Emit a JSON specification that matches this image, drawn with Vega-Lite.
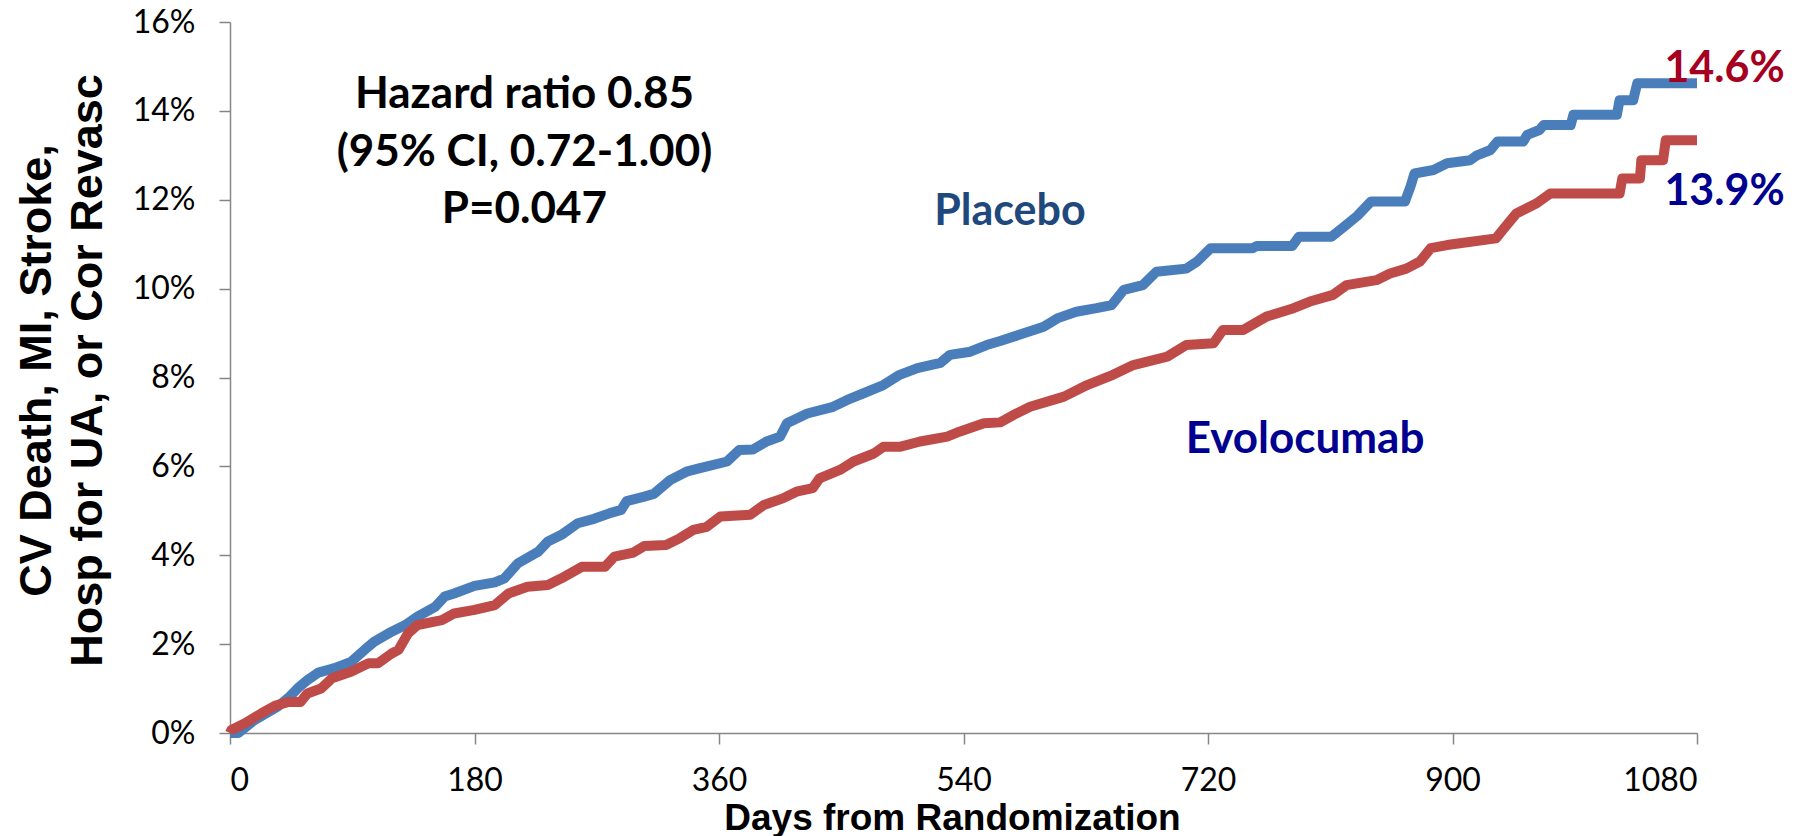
{
  "$schema": "https://vega.github.io/schema/vega-lite/v6.json",
  "autosize": "none",
  "padding": {"left": 230, "top": 22, "right": 105, "bottom": 103},
  "width": 1467,
  "height": 711,
  "background": "white",
  "config": {
    "view": {"stroke": null},
    "axis": {
      "domainColor": "#868686", "domainWidth": 1.5,
      "tickColor": "#868686", "tickWidth": 1.5, "tickSize": 11,
      "grid": false,
      "labelFont": "Lato", "labelFontSize": 32, "labelColor": "#000000",
      "titleFont": "Liberation Sans", "titleFontWeight": "bold", "titleColor": "#000000"
    }
  },
  "datasets": {
    "km": [
      {"arm": "Placebo", "day": 0, "pct": 0},
      {"arm": "Placebo", "day": 6, "pct": 0},
      {"arm": "Placebo", "day": 18, "pct": 0.29},
      {"arm": "Placebo", "day": 35, "pct": 0.59},
      {"arm": "Placebo", "day": 44, "pct": 0.82},
      {"arm": "Placebo", "day": 51, "pct": 1.04},
      {"arm": "Placebo", "day": 57, "pct": 1.19},
      {"arm": "Placebo", "day": 65, "pct": 1.36},
      {"arm": "Placebo", "day": 77, "pct": 1.46},
      {"arm": "Placebo", "day": 89, "pct": 1.60},
      {"arm": "Placebo", "day": 99, "pct": 1.87},
      {"arm": "Placebo", "day": 106, "pct": 2.05},
      {"arm": "Placebo", "day": 119, "pct": 2.28},
      {"arm": "Placebo", "day": 129, "pct": 2.43},
      {"arm": "Placebo", "day": 138, "pct": 2.62},
      {"arm": "Placebo", "day": 151, "pct": 2.84},
      {"arm": "Placebo", "day": 158, "pct": 3.07},
      {"arm": "Placebo", "day": 165, "pct": 3.14},
      {"arm": "Placebo", "day": 180, "pct": 3.31},
      {"arm": "Placebo", "day": 195, "pct": 3.39},
      {"arm": "Placebo", "day": 202, "pct": 3.48},
      {"arm": "Placebo", "day": 212, "pct": 3.82},
      {"arm": "Placebo", "day": 227, "pct": 4.08},
      {"arm": "Placebo", "day": 234, "pct": 4.31},
      {"arm": "Placebo", "day": 244, "pct": 4.46},
      {"arm": "Placebo", "day": 256, "pct": 4.72},
      {"arm": "Placebo", "day": 268, "pct": 4.82},
      {"arm": "Placebo", "day": 281, "pct": 4.96},
      {"arm": "Placebo", "day": 288, "pct": 5.02},
      {"arm": "Placebo", "day": 292, "pct": 5.22},
      {"arm": "Placebo", "day": 305, "pct": 5.32},
      {"arm": "Placebo", "day": 312, "pct": 5.38},
      {"arm": "Placebo", "day": 324, "pct": 5.69},
      {"arm": "Placebo", "day": 336, "pct": 5.88},
      {"arm": "Placebo", "day": 346, "pct": 5.96},
      {"arm": "Placebo", "day": 366, "pct": 6.11},
      {"arm": "Placebo", "day": 375, "pct": 6.37},
      {"arm": "Placebo", "day": 385, "pct": 6.38},
      {"arm": "Placebo", "day": 395, "pct": 6.56},
      {"arm": "Placebo", "day": 405, "pct": 6.67},
      {"arm": "Placebo", "day": 410, "pct": 6.97},
      {"arm": "Placebo", "day": 425, "pct": 7.19},
      {"arm": "Placebo", "day": 444, "pct": 7.34},
      {"arm": "Placebo", "day": 454, "pct": 7.49},
      {"arm": "Placebo", "day": 466, "pct": 7.64},
      {"arm": "Placebo", "day": 481, "pct": 7.83},
      {"arm": "Placebo", "day": 493, "pct": 8.06},
      {"arm": "Placebo", "day": 506, "pct": 8.21},
      {"arm": "Placebo", "day": 523, "pct": 8.33},
      {"arm": "Placebo", "day": 530, "pct": 8.51},
      {"arm": "Placebo", "day": 545, "pct": 8.58},
      {"arm": "Placebo", "day": 557, "pct": 8.73},
      {"arm": "Placebo", "day": 567, "pct": 8.82},
      {"arm": "Placebo", "day": 581, "pct": 8.96},
      {"arm": "Placebo", "day": 599, "pct": 9.14},
      {"arm": "Placebo", "day": 609, "pct": 9.33},
      {"arm": "Placebo", "day": 623, "pct": 9.48},
      {"arm": "Placebo", "day": 638, "pct": 9.56},
      {"arm": "Placebo", "day": 649, "pct": 9.63},
      {"arm": "Placebo", "day": 658, "pct": 9.97},
      {"arm": "Placebo", "day": 672, "pct": 10.08},
      {"arm": "Placebo", "day": 682, "pct": 10.38},
      {"arm": "Placebo", "day": 704, "pct": 10.45},
      {"arm": "Placebo", "day": 712, "pct": 10.61},
      {"arm": "Placebo", "day": 722, "pct": 10.91},
      {"arm": "Placebo", "day": 753, "pct": 10.91},
      {"arm": "Placebo", "day": 756, "pct": 10.96},
      {"arm": "Placebo", "day": 782, "pct": 10.96},
      {"arm": "Placebo", "day": 787, "pct": 11.17},
      {"arm": "Placebo", "day": 811, "pct": 11.17},
      {"arm": "Placebo", "day": 820, "pct": 11.39},
      {"arm": "Placebo", "day": 830, "pct": 11.64},
      {"arm": "Placebo", "day": 840, "pct": 11.96},
      {"arm": "Placebo", "day": 865, "pct": 11.96},
      {"arm": "Placebo", "day": 869, "pct": 12.29},
      {"arm": "Placebo", "day": 872, "pct": 12.59},
      {"arm": "Placebo", "day": 886, "pct": 12.67},
      {"arm": "Placebo", "day": 896, "pct": 12.82},
      {"arm": "Placebo", "day": 913, "pct": 12.89},
      {"arm": "Placebo", "day": 918, "pct": 13.0},
      {"arm": "Placebo", "day": 928, "pct": 13.12},
      {"arm": "Placebo", "day": 933, "pct": 13.31},
      {"arm": "Placebo", "day": 952, "pct": 13.31},
      {"arm": "Placebo", "day": 955, "pct": 13.46},
      {"arm": "Placebo", "day": 964, "pct": 13.57},
      {"arm": "Placebo", "day": 967, "pct": 13.68},
      {"arm": "Placebo", "day": 987, "pct": 13.68},
      {"arm": "Placebo", "day": 989, "pct": 13.91},
      {"arm": "Placebo", "day": 1021, "pct": 13.91},
      {"arm": "Placebo", "day": 1023, "pct": 14.24},
      {"arm": "Placebo", "day": 1033, "pct": 14.24},
      {"arm": "Placebo", "day": 1036, "pct": 14.62},
      {"arm": "Placebo", "day": 1080, "pct": 14.62},
      {"arm": "Evolocumab", "day": 0, "pct": 0},
      {"arm": "Evolocumab", "day": 1, "pct": 0.07},
      {"arm": "Evolocumab", "day": 11, "pct": 0.22},
      {"arm": "Evolocumab", "day": 23, "pct": 0.44},
      {"arm": "Evolocumab", "day": 33, "pct": 0.61},
      {"arm": "Evolocumab", "day": 43, "pct": 0.70},
      {"arm": "Evolocumab", "day": 52, "pct": 0.70},
      {"arm": "Evolocumab", "day": 57, "pct": 0.89},
      {"arm": "Evolocumab", "day": 67, "pct": 1.0},
      {"arm": "Evolocumab", "day": 75, "pct": 1.23},
      {"arm": "Evolocumab", "day": 89, "pct": 1.38},
      {"arm": "Evolocumab", "day": 102, "pct": 1.57},
      {"arm": "Evolocumab", "day": 109, "pct": 1.57},
      {"arm": "Evolocumab", "day": 119, "pct": 1.79},
      {"arm": "Evolocumab", "day": 124, "pct": 1.87},
      {"arm": "Evolocumab", "day": 131, "pct": 2.24},
      {"arm": "Evolocumab", "day": 138, "pct": 2.43},
      {"arm": "Evolocumab", "day": 156, "pct": 2.54},
      {"arm": "Evolocumab", "day": 165, "pct": 2.69},
      {"arm": "Evolocumab", "day": 180, "pct": 2.77},
      {"arm": "Evolocumab", "day": 195, "pct": 2.88},
      {"arm": "Evolocumab", "day": 205, "pct": 3.14},
      {"arm": "Evolocumab", "day": 219, "pct": 3.29},
      {"arm": "Evolocumab", "day": 234, "pct": 3.33},
      {"arm": "Evolocumab", "day": 244, "pct": 3.48},
      {"arm": "Evolocumab", "day": 259, "pct": 3.74},
      {"arm": "Evolocumab", "day": 276, "pct": 3.74},
      {"arm": "Evolocumab", "day": 283, "pct": 3.97},
      {"arm": "Evolocumab", "day": 297, "pct": 4.06},
      {"arm": "Evolocumab", "day": 305, "pct": 4.21},
      {"arm": "Evolocumab", "day": 321, "pct": 4.23},
      {"arm": "Evolocumab", "day": 331, "pct": 4.38},
      {"arm": "Evolocumab", "day": 341, "pct": 4.57},
      {"arm": "Evolocumab", "day": 351, "pct": 4.64},
      {"arm": "Evolocumab", "day": 361, "pct": 4.87},
      {"arm": "Evolocumab", "day": 383, "pct": 4.91},
      {"arm": "Evolocumab", "day": 393, "pct": 5.13},
      {"arm": "Evolocumab", "day": 407, "pct": 5.28},
      {"arm": "Evolocumab", "day": 417, "pct": 5.43},
      {"arm": "Evolocumab", "day": 429, "pct": 5.51},
      {"arm": "Evolocumab", "day": 434, "pct": 5.73},
      {"arm": "Evolocumab", "day": 449, "pct": 5.92},
      {"arm": "Evolocumab", "day": 459, "pct": 6.11},
      {"arm": "Evolocumab", "day": 474, "pct": 6.29},
      {"arm": "Evolocumab", "day": 481, "pct": 6.44},
      {"arm": "Evolocumab", "day": 493, "pct": 6.44},
      {"arm": "Evolocumab", "day": 508, "pct": 6.56},
      {"arm": "Evolocumab", "day": 528, "pct": 6.67},
      {"arm": "Evolocumab", "day": 537, "pct": 6.78},
      {"arm": "Evolocumab", "day": 555, "pct": 6.97},
      {"arm": "Evolocumab", "day": 567, "pct": 6.99},
      {"arm": "Evolocumab", "day": 577, "pct": 7.16},
      {"arm": "Evolocumab", "day": 589, "pct": 7.34},
      {"arm": "Evolocumab", "day": 614, "pct": 7.57},
      {"arm": "Evolocumab", "day": 631, "pct": 7.83},
      {"arm": "Evolocumab", "day": 650, "pct": 8.06},
      {"arm": "Evolocumab", "day": 665, "pct": 8.28},
      {"arm": "Evolocumab", "day": 690, "pct": 8.47},
      {"arm": "Evolocumab", "day": 704, "pct": 8.73},
      {"arm": "Evolocumab", "day": 724, "pct": 8.77},
      {"arm": "Evolocumab", "day": 731, "pct": 9.07},
      {"arm": "Evolocumab", "day": 746, "pct": 9.07},
      {"arm": "Evolocumab", "day": 763, "pct": 9.37},
      {"arm": "Evolocumab", "day": 783, "pct": 9.56},
      {"arm": "Evolocumab", "day": 795, "pct": 9.71},
      {"arm": "Evolocumab", "day": 812, "pct": 9.86},
      {"arm": "Evolocumab", "day": 822, "pct": 10.08},
      {"arm": "Evolocumab", "day": 834, "pct": 10.14},
      {"arm": "Evolocumab", "day": 844, "pct": 10.19},
      {"arm": "Evolocumab", "day": 854, "pct": 10.34},
      {"arm": "Evolocumab", "day": 866, "pct": 10.45},
      {"arm": "Evolocumab", "day": 876, "pct": 10.61},
      {"arm": "Evolocumab", "day": 884, "pct": 10.91},
      {"arm": "Evolocumab", "day": 896, "pct": 10.98},
      {"arm": "Evolocumab", "day": 932, "pct": 11.13},
      {"arm": "Evolocumab", "day": 937, "pct": 11.32},
      {"arm": "Evolocumab", "day": 947, "pct": 11.69},
      {"arm": "Evolocumab", "day": 962, "pct": 11.92},
      {"arm": "Evolocumab", "day": 972, "pct": 12.14},
      {"arm": "Evolocumab", "day": 1023, "pct": 12.14},
      {"arm": "Evolocumab", "day": 1025, "pct": 12.48},
      {"arm": "Evolocumab", "day": 1038, "pct": 12.48},
      {"arm": "Evolocumab", "day": 1039, "pct": 12.89},
      {"arm": "Evolocumab", "day": 1055, "pct": 12.89},
      {"arm": "Evolocumab", "day": 1057, "pct": 13.34},
      {"arm": "Evolocumab", "day": 1080, "pct": 13.34}
    ]
  },
  "layer": [
    {
      "data": {"name": "km"},
      "transform": [{"filter": "datum.arm === 'Placebo'"}],
      "mark": {"type": "line", "color": "#4A7EBB", "strokeWidth": 10, "strokeJoin": "round", "strokeCap": "butt", "clip": false},
      "encoding": {
        "x": {
          "field": "day", "type": "quantitative",
          "scale": {"domain": [0, 1080], "nice": false, "zero": true},
          "axis": {
            "values": [0, 180, 360, 540, 720, 900, 1080],
            "format": "d",
            "labelPadding": 21,
            "title": "Days from Randomization",
            "titleFontSize": 37,
            "titleBaseline": "alphabetic",
            "titleX": 722, "titleY": 96
          }
        },
        "y": {
          "field": "pct", "type": "quantitative",
          "scale": {"domain": [0, 16], "nice": false},
          "axis": {
            "values": [0, 2, 4, 6, 8, 10, 12, 14, 16],
            "labelExpr": "datum.value + '%'",
            "labelPadding": 24,
            "title": ["CV Death, MI, Stroke,", "Hosp for UA, or Cor Revasc"],
            "titleFontSize": 45,
            "titleLineHeight": 51,
            "titleAngle": -90,
            "titleBaseline": "middle",
            "titleAlign": "center",
            "titleX": -194, "titleY": 348
          }
        }
      }
    },
    {
      "data": {"name": "km"},
      "transform": [{"filter": "datum.arm === 'Evolocumab'"}],
      "mark": {"type": "line", "color": "#BE4B48", "strokeWidth": 10, "strokeJoin": "round", "strokeCap": "butt", "clip": false},
      "encoding": {
        "x": {"field": "day", "type": "quantitative"},
        "y": {"field": "pct", "type": "quantitative"}
      }
    },
    {
      "data": {"values": [{"label": ["Hazard ratio 0.85", "(95% CI, 0.72-1.00)", "P=0.047"]}]},
      "mark": {"type": "text", "font": "Lato", "fontWeight": "bold", "fontSize": 44, "lineHeight": 57.5, "align": "center", "baseline": "alphabetic", "color": "#000000"},
      "encoding": {"x": {"datum": 216.8, "type": "quantitative"}, "y": {"datum": 14.06, "type": "quantitative"}, "text": {"field": "label"}}
    },
    {
      "data": {"values": [{"label": "Placebo"}]},
      "mark": {"type": "text", "font": "Lato", "fontWeight": "bold", "fontSize": 43, "align": "center", "baseline": "alphabetic", "color": "#1F497D"},
      "encoding": {"x": {"datum": 574.2, "type": "quantitative"}, "y": {"datum": 11.43, "type": "quantitative"}, "text": {"field": "label"}}
    },
    {
      "data": {"values": [{"label": "Evolocumab"}]},
      "mark": {"type": "text", "font": "Lato", "fontWeight": "bold", "fontSize": 44, "align": "center", "baseline": "alphabetic", "color": "#000090"},
      "encoding": {"x": {"datum": 791.4, "type": "quantitative"}, "y": {"datum": 6.30, "type": "quantitative"}, "text": {"field": "label"}}
    },
    {
      "data": {"values": [{"label": "14.6%"}]},
      "mark": {"type": "text", "font": "Lato", "fontWeight": "bold", "fontSize": 43, "align": "center", "baseline": "alphabetic", "color": "#A50021"},
      "encoding": {"x": {"datum": 1100.3, "type": "quantitative"}, "y": {"datum": 14.65, "type": "quantitative"}, "text": {"field": "label"}}
    },
    {
      "data": {"values": [{"label": "13.9%"}]},
      "mark": {"type": "text", "font": "Lato", "fontWeight": "bold", "fontSize": 43, "align": "center", "baseline": "alphabetic", "color": "#000090"},
      "encoding": {"x": {"datum": 1100.3, "type": "quantitative"}, "y": {"datum": 11.88, "type": "quantitative"}, "text": {"field": "label"}}
    }
  ]
}
